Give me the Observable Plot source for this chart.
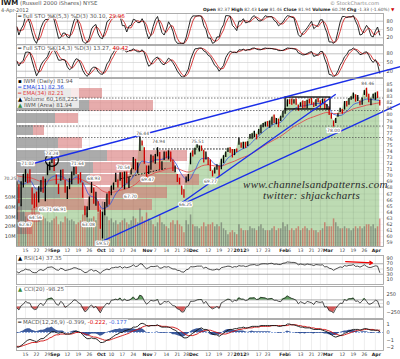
<!DOCTYPE html>
<html><head><meta charset="utf-8">
<script src="https://cdn.jsdelivr.net/npm/d3@7"></script>
<script src="https://cdn.jsdelivr.net/npm/@observablehq/plot@0.6"></script>
<style>
body{margin:0;background:#fff;}
#c{position:relative;width:400px;height:359px;overflow:hidden;font-family:"DejaVu Sans",sans-serif;}
.t{position:absolute;white-space:nowrap;font-size:5.5px;color:#555;line-height:6px;}
.t b{color:#222}
.wm{position:absolute;white-space:nowrap;font-family:"Liberation Serif",serif;font-style:italic;color:#2a2a2a;font-size:11px;letter-spacing:0.3px;}
</style></head><body><div id="c"></div>
<script>
// ---------- data (trading days 9-Aug-2011 .. 4-Apr-2012) ----------
const closes=[68.8,65.6,68.7,69.0,70.7,69.6,69.4,66.2,65.4,65.3,
68.1,69.0,67.4,69.2,71.7,72.0,72.3,70.9,68.9,68.3,
70.8,69.6,67.5,68.1,68.9,69.8,71.0,70.7,69.4,68.9,
66.4,64.1,64.6,66.4,67.4,65.5,66.3,64.2,61.4,63.9,
65.3,66.8,65.6,68.2,68.4,69.3,69.0,70.4,68.3,70.2,
69.0,69.6,70.7,72.9,71.0,71.9,75.6,75.3,72.0,69.7,
71.3,73.3,73.0,73.3,74.4,71.2,71.7,73.6,73.1,73.8,
72.4,71.1,71.1,69.3,68.8,66.9,66.6,69.4,69.9,73.6,
73.5,73.7,74.7,74.7,74.6,72.3,73.7,72.1,70.9,70.2,
70.6,71.3,70.0,72.6,73.1,73.8,74.4,74.3,73.1,74.1,
73.9,75.5,75.0,75.3,74.8,75.4,76.4,76.7,77.1,76.6,
76.9,78.1,78.4,78.6,78.4,78.8,79.4,78.9,79.2,79.0,
79.1,80.2,80.8,82.4,82.3,82.2,82.3,82.0,81.0,81.9,
81.6,81.3,82.3,82.1,81.9,81.5,82.4,82.2,82.1,82.4,
81.1,81.3,80.0,79.6,78.3,79.2,80.0,80.8,80.6,82.1,
81.7,82.6,82.7,83.5,82.4,82.6,81.9,82.7,83.9,83.0,
82.2,82.3,82.8,83.5,83.3,81.94];
const highs=[69.0,68.5,69.0,70.2,71.0,70.3,71.0,68.0,67.0,67.3,
68.2,69.2,69.8,69.4,71.8,72.2,73.2,72.7,70.1,68.6,
70.9,71.0,69.2,68.2,69.5,70.6,71.4,71.6,70.1,70.5,
68.8,65.0,64.9,66.5,68.9,68.0,67.3,65.7,64.3,64.0,
65.6,67.0,67.4,68.3,68.8,70.4,69.3,70.5,70.5,70.6,
70.6,69.8,71.2,73.0,72.7,72.1,76.4,75.7,74.6,71.6,
71.6,73.4,73.2,73.5,74.6,73.8,72.3,73.9,73.9,74.1,
73.9,72.6,71.6,70.2,69.6,68.3,67.7,69.8,70.2,73.7,
74.1,74.5,75.5,74.9,74.9,74.2,73.9,73.0,72.6,70.8,
71.3,71.8,71.6,72.7,73.3,73.9,74.5,74.6,74.3,74.3,
74.4,76.2,75.4,75.5,75.5,75.6,76.8,76.9,77.3,76.8,
77.6,78.3,78.6,78.8,78.9,79.0,79.6,80.0,79.4,79.3,
79.8,80.6,81.0,82.5,82.5,82.6,82.5,82.6,81.6,82.0,
82.3,82.2,82.4,82.6,82.7,82.0,82.5,82.7,82.3,82.6,
82.6,81.7,81.3,80.2,79.0,79.4,80.2,81.1,80.9,82.2,
82.2,82.7,83.0,83.6,83.3,83.2,82.3,82.8,84.0,84.4,
83.4,82.6,83.4,83.6,83.8,82.43];
const lows=[62.7,65.4,64.9,68.0,68.9,68.7,68.8,65.2,64.6,64.8,
65.5,67.3,67.1,65.7,70.0,70.8,72.0,70.7,68.5,66.9,
69.1,69.3,67.1,66.1,67.7,68.5,70.0,70.2,68.6,68.8,
66.3,63.4,63.1,64.3,67.1,65.3,65.0,64.0,61.2,59.6,
63.4,64.8,65.2,66.7,67.6,68.9,68.0,69.1,68.0,67.7,
68.7,67.9,70.1,71.0,70.8,70.3,74.0,74.9,71.9,69.5,
70.2,70.9,72.1,71.9,73.1,71.0,70.9,72.5,72.8,72.6,
72.2,70.7,70.5,68.9,68.5,66.8,66.3,68.8,69.0,71.8,
73.1,73.4,74.5,73.9,74.0,72.1,72.6,71.7,70.7,69.8,
70.3,70.9,69.8,71.0,72.0,73.0,73.8,73.7,72.9,73.3,
73.8,75.0,74.5,74.4,74.5,74.8,76.0,76.0,76.3,75.9,
76.7,76.9,77.9,78.0,78.0,77.8,78.3,78.6,78.4,77.9,
78.9,79.5,80.1,81.3,81.7,81.6,81.8,81.6,80.6,81.3,
81.0,81.1,81.0,81.8,81.6,81.2,81.4,82.0,81.1,81.8,
80.9,80.8,79.9,79.3,78.0,78.6,79.6,80.4,80.1,80.8,
81.3,81.6,82.4,82.6,82.1,82.2,81.5,81.6,83.2,82.9,
82.0,81.5,82.6,82.4,82.7,81.46];
const volumeM=[45,40,42,35,30,28,32,38,40,30,32,28,30,28,25,24,26,
28,30,22,25,24,30,28,26,27,25,22,24,26,32,38,34,28,28,30,26,34,
40,45,36,30,26,28,24,26,22,24,26,28,24,22,26,30,28,24,38,30,26,
34,28,26,22,20,24,32,24,22,20,18,24,26,22,26,22,20,14,26,22,32,
22,20,20,18,20,24,20,22,22,24,20,22,20,24,18,16,12,14,16,14,12,
22,18,16,16,16,20,18,18,16,20,22,18,16,16,16,18,20,16,18,18,
24,20,22,16,18,16,18,20,16,18,20,18,16,18,16,16,14,16,18,24,
20,20,20,28,24,20,18,18,20,18,18,16,18,20,18,20,18,20,22,22,20,22,
18,20,28];
const emaIdx=[0,3,6,9,12,15,18,21,24,27,30,33,36,39,42,45,48,51,54,57,60,63,66,69,72,75,78,81,84,87,90,93,96,99,102,105,108,111,114,117,120,123,126,129,132,135,138,141,144,147,150,153,156,159,162,165];
const ema11=[69.5,68.6,69.2,67.8,67.9,69.5,70.0,69.8,69.0,69.8,68.9,66.8,66.3,64.6,65.1,67.0,68.2,69.0,70.4,72.4,72.2,72.6,72.7,73.1,72.2,70.2,69.2,70.9,72.8,72.9,71.9,71.6,72.9,73.6,74.3,74.8,75.9,76.9,77.8,78.5,78.8,80.0,81.0,81.4,81.6,81.8,81.9,81.6,80.1,79.9,80.6,81.7,82.1,82.6,82.5,82.36];
const ema34=[70.0,69.8,69.7,69.3,69.0,69.2,69.4,69.4,69.3,69.5,69.3,68.7,68.3,67.5,67.2,67.4,67.7,68.0,68.6,69.6,70.0,70.5,70.8,71.2,71.3,70.9,70.6,71.0,71.6,71.8,71.6,71.6,72.0,72.4,72.9,73.3,73.9,74.6,75.3,75.9,76.5,77.3,78.1,78.7,79.3,79.7,80.1,80.4,80.2,80.3,80.5,81.0,81.3,81.6,81.8,82.0];
const sto5K=[60,30,52,66,99,93,71,38,12,0,23,56,75,86,86,100,100,85,52,18,21,37,37,23,20,53,81,97,71,38,8,0,3,19,52,63,68,34,20,17,43,77,86,93,93,100,97,97,64,64,41,62,65,87,84,75,75,89,72,39,16,30,61,85,97,67,39,30,50,78,64,44,11,0,0,0,0,21,54,87,99,99,99,100,97,64,50,19,19,0,4,23,23,53,67,100,100,98,65,57,46,80,80,89,74,76,81,95,100,90,81,81,90,100,96,96,96,83,77,63,70,77,90,100,98,94,92,61,31,23,38,46,56,68,80,53,60,67,85,85,58,38,5,5,0,10,43,77,97,97,93,96,96,100,80,63,30,33,50,65,53,27,23,44,59,30];
const sto5D=[60,45,47,49,72,86,88,67,40,17,12,26,51,72,82,91,95,95,79,52,30,25,32,32,27,32,51,77,83,69,39,15,4,7,25,45,61,55,41,24,27,46,69,85,91,95,97,98,86,75,56,56,56,71,79,82,78,80,79,67,42,28,36,59,81,83,68,45,40,53,64,62,40,18,4,0,0,7,25,54,80,95,99,99,99,87,70,44,29,13,8,9,17,33,48,73,89,99,88,73,56,61,69,83,81,80,77,84,92,95,90,84,84,90,95,97,96,92,85,74,70,70,79,89,96,97,95,82,61,38,31,36,47,57,68,67,64,60,71,79,76,60,34,16,3,5,18,43,72,90,96,95,95,97,92,81,58,42,38,49,56,48,34,31,42,44];
const sto14K=[55,38,50,58,85,86,84,55,29,4,18,41,54,61,71,91,100,93,77,58,58,61,57,35,25,31,51,63,60,45,23,10,2,13,29,34,33,18,11,9,23,45,55,74,85,100,99,99,91,92,86,91,92,97,91,87,87,94,83,56,37,43,57,65,69,57,46,42,53,65,59,49,36,20,10,0,0,12,27,60,80,97,98,100,100,90,86,75,70,55,40,34,20,30,40,67,80,89,85,85,84,94,93,96,91,94,95,99,100,96,94,94,98,100,98,98,98,96,95,91,91,92,96,100,99,98,97,95,83,80,76,77,81,85,88,71,74,77,88,88,62,43,9,7,0,7,21,41,53,70,77,92,94,100,93,87,77,79,85,87,75,59,50,60,45,13];
const sto14D=[55,47,48,49,64,76,85,75,56,29,17,21,38,52,62,74,87,95,90,76,64,59,59,51,39,30,36,48,58,56,43,26,12,8,15,25,32,28,21,13,14,26,41,58,71,86,95,99,96,94,90,90,90,93,93,92,88,89,88,78,59,45,46,55,64,64,57,48,47,53,59,58,48,35,22,10,3,4,13,33,56,79,92,98,99,97,92,84,77,67,55,43,31,28,30,46,62,79,85,86,85,88,90,94,93,94,93,96,98,98,97,95,95,97,99,99,98,97,96,94,92,91,93,96,98,99,98,97,92,86,80,78,78,81,85,81,78,74,80,84,79,64,38,20,5,5,9,23,38,55,67,80,88,95,96,93,86,81,80,84,82,74,61,56,52,39];
const rsi14=[40,35,42,44,50,47,46,38,36,36,45,48,44,49,56,57,58,53,47,45,53,50,44,46,48,51,55,54,50,48,42,36,38,45,48,42,45,39,33,42,46,50,47,54,55,57,56,60,53,58,55,57,60,66,59,61,70,69,58,51,55,60,59,60,62,53,54,59,57,59,54,50,50,45,44,39,38,47,49,59,58,59,61,61,61,53,57,51,48,46,47,50,46,55,57,59,61,60,56,59,58,63,61,62,59,61,65,66,67,64,65,69,70,70,69,71,72,68,69,67,67,72,73,77,76,75,75,73,66,69,67,65,69,67,66,63,67,66,65,66,58,59,53,51,45,50,54,58,56,63,61,64,64,67,60,61,57,61,66,60,56,56,59,62,61,37];
const cci20=[-120,-180,-60,-20,60,20,10,-120,-170,-160,-40,10,-60,20,120,140,150,80,-20,-50,60,10,-110,-70,-20,30,100,90,20,-10,-130,-230,-190,-90,-40,-120,-80,-170,-260,-140,-60,10,-20,90,100,120,100,150,70,120,80,90,120,180,110,120,230,200,70,-20,30,90,70,80,110,-30,-10,60,40,60,0,-60,-70,-150,-170,-240,-230,-100,-70,60,60,70,100,110,110,0,60,-40,-110,-150,-120,-80,-140,20,50,90,120,110,40,90,70,160,120,120,80,100,150,150,160,110,120,170,160,150,120,130,140,90,90,60,50,130,150,210,170,140,120,90,-10,50,20,-10,60,40,20,-30,60,40,30,50,-100,-90,-200,-220,-260,-140,-60,10,0,110,80,130,130,150,60,70,10,70,140,60,-20,-10,30,90,70,-98];
const macdLine=[-1.9,-1.9,-1.7,-1.5,-1.2,-1.0,-0.9,-1.0,-1.1,-1.2,-1.0,-0.8,-0.8,-0.6,-0.3,-0.1,0.1,0.1,0.0,-0.1,0.0,0.0,-0.2,-0.2,-0.2,-0.1,0.1,0.2,0.1,0.0,-0.3,-0.6,-0.8,-0.8,-0.7,-0.8,-0.8,-1.0,-1.3,-1.3,-1.2,-1.0,-0.9,-0.7,-0.5,-0.3,-0.2,0.0,0.0,0.2,0.3,0.4,0.5,0.7,0.7,0.8,1.1,1.2,1.1,0.9,0.8,0.9,0.9,0.9,1.0,0.8,0.7,0.7,0.7,0.7,0.6,0.4,0.3,0.1,-0.2,-0.5,-0.7,-0.7,-0.6,-0.3,-0.1,0.1,0.3,0.5,0.6,0.4,0.4,0.3,0.0,-0.2,-0.3,-0.3,-0.5,-0.3,-0.1,0.1,0.3,0.4,0.4,0.5,0.5,0.6,0.6,0.7,0.6,0.6,0.7,0.8,0.8,0.8,0.8,0.9,0.9,0.9,0.9,0.9,0.9,0.9,0.9,0.8,0.8,0.9,0.9,1.1,1.1,1.0,1.0,0.9,0.8,0.7,0.7,0.6,0.6,0.6,0.5,0.4,0.4,0.4,0.4,0.3,0.2,0.1,-0.1,-0.3,-0.5,-0.6,-0.5,-0.4,-0.3,-0.1,0.0,0.2,0.3,0.4,0.4,0.4,0.3,0.4,0.5,0.5,0.4,0.3,0.3,0.3,0.3,0.1];
const macdSignal=[-1.8,-1.8,-1.8,-1.7,-1.6,-1.5,-1.4,-1.3,-1.3,-1.3,-1.2,-1.1,-1.1,-1.0,-0.9,-0.7,-0.6,-0.4,-0.3,-0.3,-0.2,-0.2,-0.2,-0.2,-0.2,-0.2,-0.1,0.0,0.0,0.0,-0.1,-0.2,-0.3,-0.4,-0.5,-0.6,-0.6,-0.7,-0.8,-0.9,-1.0,-1.0,-1.0,-0.9,-0.8,-0.7,-0.6,-0.5,-0.4,-0.3,-0.2,-0.1,0.1,0.2,0.3,0.4,0.5,0.7,0.8,0.9,0.9,0.9,0.9,0.9,0.9,0.9,0.8,0.8,0.8,0.7,0.7,0.7,0.6,0.5,0.3,0.1,-0.1,-0.3,-0.4,-0.4,-0.4,-0.3,-0.2,0.0,0.1,0.2,0.3,0.3,0.3,0.2,0.1,0.0,-0.1,-0.2,-0.2,-0.2,-0.1,0.0,0.1,0.2,0.3,0.4,0.4,0.5,0.5,0.6,0.6,0.6,0.7,0.7,0.7,0.8,0.8,0.8,0.8,0.8,0.9,0.9,0.9,0.9,0.9,0.9,0.9,0.9,1.0,1.0,1.0,1.0,0.9,0.9,0.8,0.8,0.7,0.7,0.6,0.6,0.5,0.5,0.5,0.4,0.4,0.3,0.2,0.1,-0.1,-0.2,-0.3,-0.4,-0.4,-0.3,-0.2,-0.1,0.0,0.1,0.2,0.3,0.3,0.3,0.4,0.4,0.4,0.4,0.4,0.3,0.3,0.3];
const macdHist=[-0.1,-0.1,0.1,0.2,0.4,0.5,0.5,0.3,0.2,0.1,0.2,0.3,0.3,0.4,0.6,0.6,0.7,0.5,0.3,0.2,0.2,0.2,0.0,0.0,0.0,0.1,0.2,0.2,0.1,0.0,-0.2,-0.4,-0.5,-0.4,-0.2,-0.2,-0.2,-0.3,-0.5,-0.4,-0.2,0.0,0.1,0.2,0.3,0.4,0.4,0.5,0.4,0.5,0.5,0.5,0.4,0.5,0.4,0.4,0.6,0.5,0.3,0.0,-0.1,0.0,0.0,0.0,0.1,-0.1,-0.1,-0.1,-0.1,0.0,-0.1,-0.3,-0.3,-0.4,-0.5,-0.6,-0.6,-0.4,-0.2,0.1,0.3,0.4,0.5,0.5,0.5,0.2,0.1,0.0,-0.3,-0.4,-0.4,-0.3,-0.4,-0.1,0.1,0.3,0.4,0.4,0.3,0.3,0.2,0.2,0.2,0.2,0.1,0.0,0.1,0.2,0.1,0.1,0.1,0.1,0.1,0.1,0.1,0.1,0.0,0.0,0.0,-0.1,-0.1,0.0,0.0,0.2,0.1,0.0,0.0,-0.1,-0.1,-0.2,-0.1,-0.2,-0.1,-0.1,-0.1,-0.2,-0.1,-0.1,-0.1,-0.1,-0.2,-0.2,-0.3,-0.4,-0.4,-0.4,-0.2,0.0,0.1,0.2,0.2,0.3,0.3,0.3,0.2,0.1,0.0,0.1,0.1,0.1,0.0,-0.1,-0.1,0.0,0.0,-0.2];
// volume-by-price bins (price low/high), up (gray) and down (pink) volume
const vbpLo=[82.70,80.56,78.59,76.61,74.47,72.34,70.36,68.39,66.25,64.28,62.30,60.33];
const vbpHi=[84.34,82.37,80.23,78.26,76.28,74.14,72.17,70.20,68.06,66.09,63.95,61.97];
const vbpUp=[110,146,78,34,84,182,154,148,88,32,18,12];
const vbpDown=[62,128,46,22,48,160,164,218,214,240,30,20];
// x ticks
const tickIdx=[4,9,14,17,23,28,33,38,43,48,53,59,63,68,73,77,80,87,92,97,101,105,110,114,121,124,129,134,138,141,148,153,158,163];
const tickLab=["15","22","29","Sep","12","19","26","Oct","10","17","24","Nov","7","14","21","28","Dec","12","19","27","2012","9","17","23","Feb","6","13","21","27","Mar","12","19","26","Apr"];
const monthLab=["Sep","Oct","Nov","Dec","2012","Feb","Mar","Apr"];
const priceTicks=[59,60,61,62,63,64,65,66,67,68,69,70,71,72,73,74,75,76,77,78,79,80,81,82,83,84,85];
const volTicks=[10,20,30,40,50];
const stoTicks=[20,50,80];
const rsiTicks=[10,30,50,70,90];
const cciTicks=[-250,0,250];
const macdTicks=[-2,-1,0,1];
// annotations
const trendX1=[4,39.5,74.5], trendY1=[71.68,59.34,65.43], trendX2=[174.5,174.5,145], trendY2=[87.96,81.9,83.4];
const dotX1=[62,47.2], dotY1=[74.4,69.5], dotX2=[96,67.6], dotY2=[74.4,71.2];
const dashLevels=[82.78,80.72,78.17,76.28];
const boxX=[122.2,142.6], boxY=[80.9,82.86];
const circleX=[16], circleY=[72.6];
const lblIdx=[-3,5,16,27.6,35,13,19.5,8.5,4,32.6,39,57.2,64.5,82.2,48.5,59.5,51.7,76.7,88,159.5,144];
const lblPrice=[69.6,72.0,73.6,72.0,69.5,64.4,64.4,63.1,61.9,62.0,58.9,76.9,75.6,75.6,71.4,69.4,66.5,65.2,69.0,85.2,77.5];
const lblText=["70.25","71.02","73.24","71.64","68.93","65.71","66.91","64.56","62.67","63.08","59.57","76.44","74.94","75.51","70.54","69.47","67.70","66.25","69.77","84.46","78.00"];
const arrowX1=[149.5], arrowY1=[78], arrowX2=[161.7], arrowY2=[73];

// ---------- drawing ----------
const C=document.getElementById("c");
const I=closes.map((d,i)=>i);
const X={domain:[-0.1,166.7],axis:null};
function add(top,h,opts,mb=0){
  const svg=Plot.plot(Object.assign({width:400,height:h,marginLeft:16,marginRight:17,marginTop:0,marginBottom:mb,
    style:{background:"transparent",overflow:"visible",fontFamily:"DejaVu Sans, sans-serif",fontSize:"5px",color:"#444"}},opts));
  svg.style.position="absolute";svg.style.top=top+"px";svg.style.left="0px";svg.style.overflow="visible";
  C.appendChild(svg);
}
const vgrid=()=>Plot.ruleX(tickIdx,{stroke:"#000",strokeOpacity:0.12,strokeWidth:0.6});
const rightAxis=(t)=>Plot.axisY(t,{anchor:"right",tickSize:0,tickPadding:3,fill:"#444"});
const frame=()=>Plot.frame({stroke:"#999",strokeWidth:0.8});
const xLabels=()=>[
  Plot.text(tickIdx,{x:d=>d,text:(d,i)=>tickLab[i],filter:(d,i)=>!monthLab.includes(tickLab[i]),frameAnchor:"bottom",dy:5,fill:"#444",fontSize:4.6}),
  Plot.text(tickIdx,{x:d=>d,text:(d,i)=>tickLab[i],filter:(d,i)=>monthLab.includes(tickLab[i]),frameAnchor:"bottom",dy:5,fill:"#222",fontWeight:"bold",fontSize:4.6,dx:1})
];

// STO 5,3
add(13,31,{x:X,y:{domain:[-4.2,107.8],axis:null},marks:[
  vgrid(),Plot.ruleY([50],{stroke:"#ccc",strokeWidth:0.6}),Plot.ruleY([20,80],{stroke:"#999",strokeWidth:0.6}),
  Plot.line(sto5D,{x:I,y:d=>d,stroke:"#d01010",strokeWidth:0.8}),
  Plot.line(sto5K,{x:I,y:d=>d,stroke:"#111",strokeWidth:0.9}),
  rightAxis(stoTicks),frame()]});
// STO 14,3
add(45,32,{x:X,y:{domain:[-1.7,108.6],axis:null},marks:[
  vgrid(),Plot.ruleY([50],{stroke:"#ccc",strokeWidth:0.6}),Plot.ruleY([20,80],{stroke:"#999",strokeWidth:0.6}),
  Plot.line(sto14D,{x:I,y:d=>d,stroke:"#d01010",strokeWidth:0.8}),
  Plot.line(sto14K,{x:I,y:d=>d,stroke:"#111",strokeWidth:0.9}),
  rightAxis(stoTicks),frame()]});
// price base layer
const PY={domain:[58.36,85.99],axis:null};
add(78,168,{x:X,y:PY,marks:[
  Plot.areaY(highs,{x:I,y1:58.36,y2:d=>d,fill:"#bddbb3"}),
  vgrid(),
  Plot.ruleY(priceTicks,{stroke:"#000",strokeOpacity:0.08,strokeWidth:0.6})
]});
// volume by price
add(78,168,{x:{domain:[0,734],axis:null},y:PY,marks:[
  Plot.rectX(vbpUp,{x1:0,x2:d=>d,y1:vbpLo,y2:vbpHi,fill:"#8a8a8a",fillOpacity:0.72}),
  Plot.rectX(vbpDown,{x1:vbpUp,x2:(d,i)=>vbpUp[i]+d,y1:vbpLo,y2:vbpHi,fill:"#d46868",fillOpacity:0.55})
]});
// volume
add(78,168,{x:X,y:{domain:[0,170.4],axis:null},marks:[
  Plot.ruleX(volumeM,{x:I,y1:0,y2:d=>d,stroke:(d,i)=>i>0&&closes[i]<closes[i-1]?"#c33":"#555",strokeWidth:1.5,strokeOpacity:0.5}),
  Plot.axisY(volTicks,{anchor:"left",tickSize:0,tickPadding:1,tickFormat:d=>d+"M",fill:"#444"})
]});
// price top layer
add(78,176,{x:X,y:PY,marks:[
  Plot.ruleY(dashLevels,{stroke:"#555",strokeWidth:0.8,strokeDasharray:"1.5,1.5"}),
  Plot.link(dotX1,{x1:d=>d,y1:dotY1,x2:dotX2,y2:dotY2,stroke:"#111",strokeWidth:1,strokeDasharray:"1.5,1.5"}),
  Plot.line(ema34,{x:emaIdx,y:d=>d,stroke:"#e05050",strokeWidth:0.9,curve:"monotone-x"}),
  Plot.line(ema11,{x:emaIdx,y:d=>d,stroke:"#3355dd",strokeWidth:0.8,curve:"monotone-x"}),
  Plot.ruleX(closes,{x:I,y1:lows,y2:highs,stroke:(d,i)=>i>0&&d<closes[i-1]?"#d00000":"#000",strokeWidth:1.3}),
  Plot.rect(boxX.slice(0,1),{x1:boxX[0],x2:boxX[1],y1:boxY[0],y2:boxY[1],fill:"none",stroke:"#000",strokeWidth:1.3}),
  Plot.dot(circleX,{x:d=>d,y:circleY,r:6.5,stroke:"#000",strokeWidth:1.1}),
  Plot.link(trendX1,{x1:d=>d,y1:trendY1,x2:trendX2,y2:trendY2,stroke:"#1a2ee8",strokeWidth:1.4}),
  Plot.text(lblText,{x:lblIdx,y:lblPrice,text:d=>d,fill:"#555",stroke:"white",strokeWidth:2.5,fontSize:4.5}),
  Plot.axisY(priceTicks,{anchor:"right",tickSize:0,tickPadding:3,fill:"#444",fontSize:4.8}),
  frame(),
  ...xLabels()
]},8);
// RSI
add(255,29,{x:X,y:{domain:[-9,101.4],axis:null},marks:[
  vgrid(),Plot.ruleY([50],{stroke:"#ccc",strokeWidth:0.6}),Plot.ruleY([30,70],{stroke:"#888",strokeWidth:0.7}),
  Plot.line(rsi14,{x:I,y:d=>d,stroke:"#222",strokeWidth:0.8}),
  Plot.arrow(arrowX1,{x1:d=>d,y1:arrowY1,x2:arrowX2,y2:arrowY2,stroke:"#e00",strokeWidth:1.2,headLength:4}),
  rightAxis(rsiTicks),frame()]});
// CCI
add(286,32,{x:X,y:{domain:[-417,472],axis:null},marks:[
  vgrid(),Plot.ruleY([0],{stroke:"#ccc",strokeWidth:0.6}),Plot.ruleY([-100,100],{stroke:"#888",strokeWidth:0.7}),
  Plot.areaY(cci20,{x:I,y1:100,y2:d=>Math.max(d,100),fill:"#3a8a3a",fillOpacity:0.8}),
  Plot.areaY(cci20,{x:I,y1:-100,y2:d=>Math.min(d,-100),fill:"#c33",fillOpacity:0.8}),
  Plot.line(cci20,{x:I,y:d=>d,stroke:"#222",strokeWidth:0.8}),
  rightAxis(cciTicks),frame()]});
// MACD
add(319,39,{x:X,y:{domain:[-2.34,1.69],axis:null},marks:[
  vgrid(),Plot.ruleY([0],{stroke:"#7a9ad8",strokeWidth:0.8,strokeDasharray:"2,1"}),
  Plot.areaY(macdHist,{x:I,y1:0,y2:d=>d,fill:"#1c3f8c",fillOpacity:0.85}),
  Plot.line(macdSignal,{x:I,y:d=>d,stroke:"#d01010",strokeWidth:0.9}),
  Plot.line(macdLine,{x:I,y:d=>d,stroke:"#111",strokeWidth:0.9}),
  rightAxis(macdTicks),frame(),...xLabels()]},8);

// ---------- text ----------
function T(x,y,html,cls="t",extra=""){const d=document.createElement("div");d.className=cls;d.style.left=x+"px";d.style.top=y+"px";if(extra)d.style.cssText+=extra;d.innerHTML=html;C.appendChild(d);}
T(1,0,"<b style='font-size:7px'>IWM</b> (Russell 2000 iShares) NYSE","t","font-size:5.5px");
T(1,7,"4-Apr-2012","t","font-size:5px");
T(330,0,"© StockCharts.com","t","font-size:5px;color:#888");
T(203,7,"<b>Open</b> 82.37 <b>High</b> 82.43 <b>Low</b> 81.46 <b>Close</b> 81.94 <b>Volume</b> 60.2M <b>Chg</b> -1.33 (-1.60%) <span style='color:#c00'>▼</span>","t","font-size:4.4px");
const bg="background:rgba(255,255,255,0.75);padding:0 1px;";
T(17,13,"<span style='color:#000'>━</span> Full STO %K(5,3) %D(3) 30.10, <span style='color:#d00'>29.96</span>","t",bg);
T(17,45,"<span style='color:#000'>━</span> Full STO %K(14,3) %D(3) 13.27, <span style='color:#d00'>40.42</span>","t",bg);
T(17,78,"<span style='color:#000'>▪</span> IWM (Daily) 81.94<br><span style='color:#2244dd'>━ EMA(11) 82.36</span><br><span style='color:#e04040'>━ EMA(34) 82.21</span><br><span style='color:#000'>▲</span> Volume 60,168,225<br><span style='color:#3a8a3a'>▲</span> IWM (Area) 81.94","t",bg);
T(17,255,"<span style='color:#000'>▲</span> RSI(14) 37.35","t",bg);
T(17,286,"<span style='color:#3a8a3a'>▲</span> CCI(20) -98.25","t",bg);
T(17,319,"<span style='color:#000'>━</span> MACD(12,26,9) -0.399, <span style='color:#d00'>-0.222</span>, <span style='color:#4466dd'>-0.177</span>","t",bg);
T(243,178,"www.channelsandpatterns.com","wm");
T(263,189,"twitter: shjackcharts","wm");
</script></body></html>
